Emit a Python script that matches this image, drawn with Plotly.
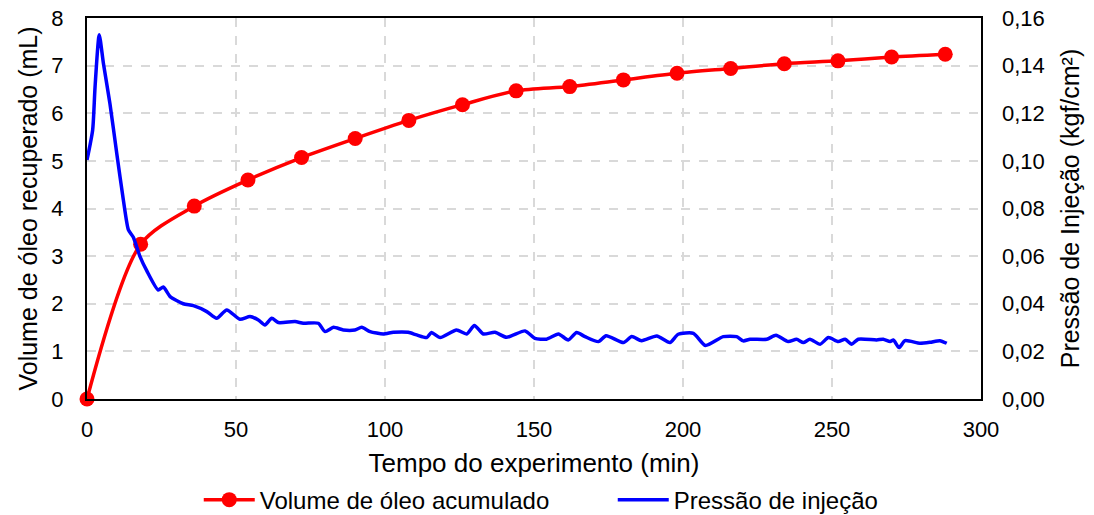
import plotly.graph_objects as go

# Volume de óleo acumulado (mL)
t_vol = [0, 18, 36, 54, 72, 90, 108, 126, 144, 162, 180, 198, 216, 234, 252, 270, 288]
vol = [0.0, 3.25, 4.05, 4.60, 5.07, 5.47, 5.85, 6.18, 6.47, 6.56, 6.70, 6.84, 6.94, 7.04, 7.10, 7.18, 7.24]

# Pressão de injeção (kgf/cm²)
t_p = [0, 1.9, 2.7, 4.1, 5.5, 7.7, 10, 12.2, 13.9, 15.5, 17.8, 20, 23.9, 25.6, 27.9, 32.3,
       35.7, 40.2, 43.5, 46.9, 51.3, 54.7, 57.5, 59.7, 62, 64.2, 69.8, 72.6, 77.6, 79.9,
       82.7, 86, 89.9, 92.2, 95, 99.4, 102.8, 107.8, 110.6, 114, 115.6, 118.5, 124, 127.4,
       130, 133, 136.9, 140.8, 147, 150.3, 154.2, 158.2, 161.5, 164.3, 167.1, 171.6, 174.2,
       180, 182.8, 186.1, 191.2, 195.6, 198.4, 203.5, 207.5, 213.5, 218, 220.2, 222.5,
       228.1, 231.2, 235.3, 238.1, 240.4, 242.6, 246, 248.8, 252.1, 254.4, 256.6, 258.8,
       265, 267.2, 269.5, 270.6, 272.5, 274.5, 279.5, 282.9, 286.2, 288.5]
pres = [0.1004, 0.113, 0.131, 0.153, 0.141, 0.124, 0.103, 0.0836, 0.071, 0.068, 0.0598,
        0.054, 0.0458, 0.047, 0.043, 0.040,
        0.0392, 0.0367, 0.0339, 0.0374, 0.0335, 0.0346, 0.0332, 0.0311, 0.0339, 0.0321,
        0.0325, 0.0318, 0.0318, 0.0283, 0.0301, 0.029, 0.029, 0.0301, 0.0283, 0.0273,
        0.028, 0.028, 0.0269, 0.0258, 0.0279, 0.0258, 0.029, 0.0273, 0.0309, 0.0273,
        0.028, 0.0259, 0.0286, 0.0255, 0.0251, 0.0273, 0.0248, 0.0279, 0.0262, 0.0241,
        0.0266, 0.0237, 0.0262, 0.0245, 0.0265, 0.0237, 0.0272, 0.0276, 0.0225, 0.0262,
        0.0262, 0.0244, 0.0251, 0.0251, 0.0268, 0.0241, 0.0251, 0.0237, 0.0251, 0.0230,
        0.0258, 0.0241, 0.0251, 0.0230, 0.0251, 0.0248, 0.0251, 0.0241, 0.0248, 0.0216,
        0.0245, 0.0234, 0.0238, 0.0245, 0.0234]

FONT = "Liberation Sans, Arial, sans-serif"

fig = go.Figure()
fig.add_trace(go.Scatter(
    x=t_vol, y=vol, name="Volume de óleo acumulado",
    mode="lines+markers", cliponaxis=False,
    line=dict(color="#ff0000", width=3.5, shape="spline", smoothing=0.8),
    marker=dict(color="#ff0000", size=15),
))
fig.add_trace(go.Scatter(
    x=t_p, y=pres, name="Pressão de injeção", yaxis="y2",
    mode="lines",
    line=dict(color="#0000ff", width=3.5, shape="spline", smoothing=0.6),
))

grid = dict(showgrid=True, gridcolor="#d9d9d9", griddash="dash", gridwidth=1.5)

fig.update_layout(
    width=1094, height=515,
    margin=dict(l=87, r=113, t=18, b=116),
    paper_bgcolor="white", plot_bgcolor="white",
    separators=",.",
    font=dict(family=FONT, size=22, color="#000000"),
    showlegend=True,
    legend=dict(orientation="h", xref="paper", x=0.125, xanchor="left",
                yref="container", y=0.029, yanchor="middle",
                font=dict(size=24, family=FONT), entrywidth=348, entrywidthmode="pixels",
                itemwidth=51, bgcolor="rgba(0,0,0,0)"),
    xaxis=dict(range=[0, 300], tickvals=[0, 50, 100, 150, 200, 250, 300],
               title=dict(text="Tempo do experimento (min)", font=dict(size=26), standoff=18),
               showline=True, linecolor="black", linewidth=2, mirror=True, automargin=False,
               ticks="", ticklabelstandoff=10, zeroline=False, **grid),
    yaxis=dict(range=[0, 8], tickvals=list(range(0, 9)),
               title=dict(text="Volume de óleo recuperado (mL)", font=dict(size=25), standoff=7),
               showline=True, linecolor="black", linewidth=2, mirror=True, automargin=False,
               ticks="", ticklabelstandoff=17, zeroline=False, **grid),
    yaxis2=dict(range=[0, 0.16], overlaying="y", side="right",
                tickvals=[0, 0.02, 0.04, 0.06, 0.08, 0.10, 0.12, 0.14, 0.16],
                tickformat=".2f", automargin=False, ticklabelstandoff=20,
                title=dict(text="Pressão de Injeção (kgf/cm²)", font=dict(size=25), standoff=17),
                showgrid=False, zeroline=False, ticks="", showline=False),
)

fig.write_html("out.html")
